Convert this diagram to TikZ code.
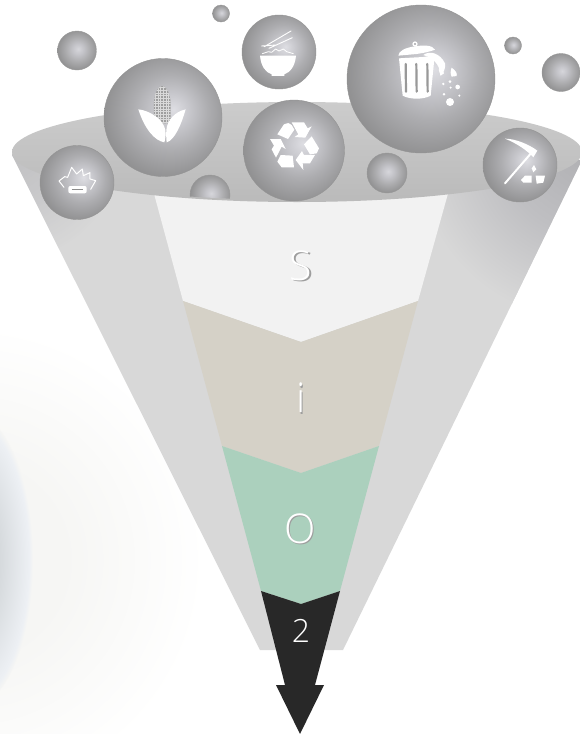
\documentclass[tikz,border=0pt]{standalone}
\usepackage{fontspec}
\newfontfamily\thinfont{Open Sans Light}
\definecolor{coneg}{HTML}{D8D8D8}
\definecolor{layS}{HTML}{F2F2F2}
\definecolor{layI}{HTML}{D5D1C7}
\definecolor{layO}{HTML}{ABD0BD}
\definecolor{layK}{HTML}{282828}
\definecolor{oa}{HTML}{DEDEE3}
\definecolor{ob}{HTML}{C8C8CD}
\definecolor{oc}{HTML}{ADADB0}
\definecolor{od}{HTML}{8F8F90}
\definecolor{sa}{HTML}{D6D6DB}
\definecolor{sb}{HTML}{C4C4C9}
\definecolor{sc}{HTML}{ABABAD}
\definecolor{sd}{HTML}{919192}
\definecolor{ca}{HTML}{B0B0B3}
\definecolor{cb}{HTML}{BFBFC2}
\definecolor{fa}{HTML}{F6F6F4}
\definecolor{ba}{HTML}{CDD0D3}
\definecolor{bb}{HTML}{D6DADD}
\definecolor{bc}{HTML}{EDF0F4}
\pgfdeclareradialshading{orbbig}{\pgfpoint{4.5bp}{3.5bp}}{color(0bp)=(oa);color(7bp)=(ob);color(16bp)=(oc);color(28bp)=(od);color(50bp)=(od)}
\pgfdeclareradialshading{orbsmall}{\pgfpoint{1.5bp}{2bp}}{color(0bp)=(sa);color(7bp)=(sb);color(16bp)=(sc);color(26bp)=(sd);color(50bp)=(sd)}
\pgfdeclareradialshading{conedark}{\pgfpoint{0bp}{0bp}}{color(0bp)=(ca);color(12bp)=(cb);color(25bp)=(coneg);color(50bp)=(coneg)}
\pgfdeclareradialshading{blobfaint}{\pgfpoint{0bp}{0bp}}{color(0bp)=(fa);color(10bp)=(fa);color(25bp)=(white);color(50bp)=(white)}
\pgfdeclareradialshading{blobblue}{\pgfpoint{0bp}{0bp}}{color(0bp)=(ba);color(12bp)=(bb);color(23.5bp)=(bc);color(25bp)=(fa);color(50bp)=(fa)}
\tikzset{
  x=1pt,y=-1pt,
  icon/.style={fill=white,draw=none},
  iconline/.style={draw=white,line join=round,line cap=round},
  bigorb/.style={shading=orbbig,draw=black!42,line width=0.4pt},
  smallorb/.style={shading=orbsmall,draw=black!40,line width=0.4pt},
  z3/.style={x=0.3333pt,y=-0.3333pt},
  letter/.style={text=white,font=\thinfont\fontsize{41}{41}\selectfont,inner sep=0pt},
  lettershadow/.style={text=black!38,font=\thinfont\fontsize{41}{41}\selectfont,inner sep=0pt},
}
\begin{document}
\begin{tikzpicture}
\useasboundingbox (0,0) rectangle (579,734);
% background glow
\begin{scope}
\clip (0,0) rectangle (579,734);
\fill[white] (0,0) rectangle (579,734);
\shade[shading=blobfaint] (-30,560) circle[radius=235];
\shade[shading=blobblue] (-30,560) ellipse[x radius=63,y radius=148];
\end{scope}
% funnel cone
\path[fill=coneg] (12,155) -- (260,650) -- (343,650) -- (582,160) -- cycle;
\begin{scope}
\clip (12,155) -- (260,650) -- (343,650) -- (582,160) -- cycle;
\shade[shading=conedark] (585,150) circle[radius=170];
\shade[shading=conedark,opacity=0.6] (10,150) circle[radius=110];
\end{scope}
% layers
\path[fill=layS] (153,190) -- (183,301) -- (301,342) -- (418,301) -- (449,190) -- cycle;
\path[fill=layI] (183,301) -- (301,342) -- (418,301) -- (379,446) -- (301,473) -- (222,446) -- cycle;
\path[fill=layO] (222,446) -- (301,473) -- (379,446) -- (340,591) -- (301,604) -- (261,591) -- cycle;
\path[fill=layK] (261,591) -- (301,604) -- (340,591) -- (315,685) -- (324,685) -- (300,734) -- (276,685) -- (285,685) -- cycle;
% funnel mouth
\shade[top color=black!20,bottom color=black!27] (297,152) ellipse[x radius=285,y radius=50];
% small orb cut by the rim
\begin{scope}
\clip (297,152) ellipse[x radius=285,y radius=48];
\shade[smallorb] (210,195) circle[radius=20];
\end{scope}
% orbs
\shade[smallorb] (221,13.5) circle[radius=8.5];
\shade[smallorb] (77,50.5) circle[radius=19.5];
\shade[bigorb] (279,52) circle[radius=37];
\shade[bigorb] (163,117.5) circle[radius=59];
\shade[bigorb] (294,150.5) circle[radius=50.5];
\shade[bigorb] (421,79) circle[radius=74];
\shade[smallorb] (513,45.5) circle[radius=8.5];
\shade[smallorb] (561,72.5) circle[radius=19];
\shade[bigorb] (77,182.5) circle[radius=37];
\shade[smallorb] (387,173) circle[radius=20];
\shade[bigorb] (520,165) circle[radius=37];
% corn
\begin{scope}[shift={(130,80)},z3]
\begin{scope}
\clip (72,130) -- (72,65) .. controls (75,35) and (85,18) .. (97,18) .. controls (108,18) and (118,35) .. (122,65) -- (122,130) -- cycle;
\fill[black!38] (65,10) rectangle (130,135);
\foreach \g in {15,23,...,135} \draw[white!85!black,line width=0.9pt] (65,\g) -- (130,\g);
\foreach \g in {68,76,...,128} \draw[white!85!black,line width=0.9pt] (\g,10) -- (\g,135);
\end{scope}
\path[icon] (25,88) .. controls (60,92) and (100,118) .. (106,150) .. controls (108,165) and (106,178) .. (103,187) .. controls (75,182) and (45,150) .. cycle;
\path[icon] (167,88) .. controls (135,95) and (112,120) .. (109,150) .. controls (108,165) and (109,178) .. (110,187) .. controls (135,180) and (155,130) .. cycle;
\end{scope}
% rice bowl
\begin{scope}[shift={(255,25)},z3]
\path[icon] (15,92) -- (123,92) .. controls (120,125) and (105,142) .. (88,148) -- (88,153) -- (50,153) -- (50,148) .. controls (32,142) and (18,125) .. cycle;
\draw[iconline,line width=0.9pt] (28,65) -- (108,18) (42,70) -- (112,38) (20,63) -- (62,60);
\draw[iconline,line width=0.8pt] (22,86) -- (40,80) -- (50,82) -- (62,72) -- (72,78) -- (85,72) -- (95,80) -- (115,86);
\end{scope}
% recycling arrows
\begin{scope}[shift={(260,115)},z3]
\path[icon] (52,58) -- (72,28) -- (85,24) -- (95,30) -- (103,44) -- (84,72) -- cycle;
\path[icon] (95,22) -- (132,22) -- (143,40) -- (155,34) -- (136,68) -- (104,66) -- (115,58) -- cycle;
\path[icon] (155,64) -- (177,100) -- (170,115) -- (150,118) -- (132,88) -- cycle;
\path[icon] (107,135) -- (126,108) -- (132,120) -- (165,120) -- (150,145) -- (128,145) -- (130,165) -- cycle;
\path[icon] (62,120) -- (98,122) -- (102,157) -- (65,157) -- (52,140) -- cycle;
\path[icon] (30,72) -- (62,72) -- (77,102) -- (65,95) -- (48,128) -- (35,103) -- (42,92) -- cycle;
\end{scope}
% rubbish bin
\begin{scope}[shift={(390,35)},z3]
\draw[iconline,line width=1.2pt] (75,27) circle[radius=6];
\path[icon] (25,62) .. controls (26,48) and (45,38) .. (75,34) .. controls (100,30) and (128,30) .. (135,44) .. controls (120,50) and (100,54) .. (80,57) -- cycle;
\path[icon] (27,70) -- (100,66) .. controls (115,62) and (125,66) .. (133,72) -- (122,182) .. controls (100,194) and (60,194) .. (38,182) -- cycle;
\foreach \s in {47,79,112} \draw[black!40,line width=2.2pt,line cap=round] (\s,87) -- (\s+1,170);
\path[icon] (100,60) .. controls (120,45) and (150,55) .. (165,85) .. controls (168,100) and (160,115) .. (150,122) .. controls (152,100) and (140,72) .. cycle;
\path[icon] (146,104) -- (156,100) -- (162,115) -- (152,122) -- cycle;
\path[icon] (185,98) .. controls (195,105) and (203,115) .. (200,123) -- (185,125) .. controls (180,118) and (182,105) .. cycle;
\fill[white] (160,147) circle[radius=4] (180,140) circle[radius=4.5] (182,158) circle[radius=3.5] (203,156) circle[radius=7] (208,182) circle[radius=3.5] (162,178) circle[radius=4] (180,201) circle[radius=12];
\end{scope}
% pickaxe and rocks
\begin{scope}[shift={(495,130)},z3]
\draw[iconline,line width=2pt] (108,70) -- (30,160);
\path[icon] (30,26) .. controls (60,26) and (100,42) .. (127,62) -- (115,82) .. controls (95,60) and (65,40) .. cycle;
\path[icon] (110,115) -- (117,105) -- (124,118) -- (115,127) -- cycle;
\path[icon] (78,150) -- (90,137) -- (110,137) -- (110,158) -- (85,158) -- cycle;
\path[icon] (122,137) -- (150,137) -- (145,158) -- (125,161) -- cycle;
\end{scope}
% firecracker
\begin{scope}[shift={(50,160)},z3]
\draw[iconline,line width=1pt] (42,82) -- (27,63) -- (44,50) -- (53,52) -- (65,22) -- (80,42) -- (97,27) -- (100,47) -- (120,38) -- (120,57) -- (137,62) -- (122,88);
\fill[white,rounded corners=2pt] (55,78) rectangle (110,100);
\draw[black!45,line width=0.6pt] (65,89) -- (100,89);
\end{scope}
% letters
\node[lettershadow] (sshadow) at (302.2,267.2) {S};
\node[letter] (s) at (301,266) {S};
\node[lettershadow] (ishadow) at (302.2,399.2) {i};
\node[letter] (i) at (301,398) {i};
\node[lettershadow] (oshadow) at (301.2,530.2) {O};
\node[letter] (o) at (300,529) {O};
\node[letter,font=\thinfont\fontsize{32}{32}\selectfont] (two) at (301,631) {2};
\end{tikzpicture}
\end{document}
